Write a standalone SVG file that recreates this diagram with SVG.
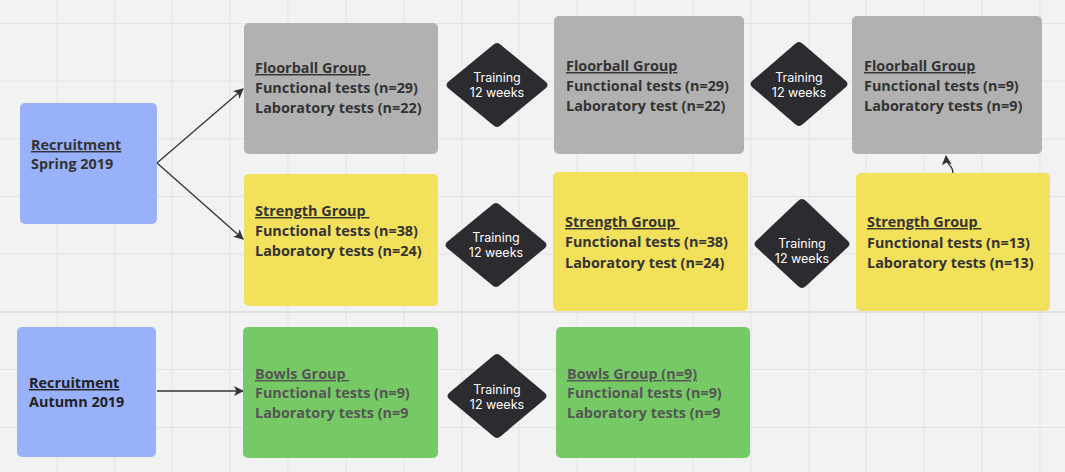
<svg xmlns="http://www.w3.org/2000/svg" width="1065" height="472" viewBox="0 0 1065 472">
<defs>
<style>
.bg{fill:#f2f2f2}
.grid line{stroke:#e3e3e3;stroke-width:1}
.box{rx:5;ry:5}
.blue{fill:#99b1fb}
.gray{fill:#b1b1b1}
.yellow{fill:#f3e05b}
.green{fill:#76ca66}
.dia{fill:#2b2b30}
.t{font-family:"Open Sans","Noto Sans","Liberation Sans",sans-serif;font-weight:700;font-size:14.4px;fill:#333}
.tg{fill:#555}
.tk{fill:#222}
.u{text-decoration:underline}
.d{font-family:Inter,Roboto,"Liberation Sans",sans-serif;font-size:12.5px;fill:#ffffff;text-anchor:middle}
.c{stroke:#333;stroke-width:1.3;fill:none}
</style>
<marker id="ah" viewBox="0 0 10 10" refX="9" refY="5" markerWidth="10" markerHeight="10" markerUnits="userSpaceOnUse" orient="auto">
<path d="M0,0 L10,5 L0,10 L2.5,5 Z" fill="#333"/>
</marker>
</defs>
<rect class="bg" x="0" y="0" width="1065" height="472"/>
<g class="grid">
<line x1="57" y1="0" x2="57" y2="472"/>
<line x1="115" y1="0" x2="115" y2="472"/>
<line x1="172" y1="0" x2="172" y2="472"/>
<line x1="230" y1="0" x2="230" y2="472"/>
<line x1="288" y1="0" x2="288" y2="472"/>
<line x1="346" y1="0" x2="346" y2="472"/>
<line x1="404" y1="0" x2="404" y2="472"/>
<line x1="462" y1="0" x2="462" y2="472"/>
<line x1="519" y1="0" x2="519" y2="472"/>
<line x1="577" y1="0" x2="577" y2="472"/>
<line x1="635" y1="0" x2="635" y2="472"/>
<line x1="693" y1="0" x2="693" y2="472"/>
<line x1="751" y1="0" x2="751" y2="472"/>
<line x1="809" y1="0" x2="809" y2="472"/>
<line x1="866" y1="0" x2="866" y2="472"/>
<line x1="924" y1="0" x2="924" y2="472"/>
<line x1="982" y1="0" x2="982" y2="472"/>
<line x1="1040" y1="0" x2="1040" y2="472"/>
<line x1="0" y1="23.5" x2="1065" y2="23.5"/>
<line x1="0" y1="81" x2="1065" y2="81"/>
<line x1="0" y1="139" x2="1065" y2="139"/>
<line x1="0" y1="196.5" x2="1065" y2="196.5"/>
<line x1="0" y1="254" x2="1065" y2="254"/>
<line x1="0" y1="312" x2="1065" y2="312" style="stroke:#dadada;stroke-width:1.5"/>
<line x1="0" y1="369.5" x2="1065" y2="369.5"/>
<line x1="0" y1="427.5" x2="1065" y2="427.5"/>
</g>
<g id="connectors">
<line class="c" x1="157" y1="163" x2="243" y2="89" marker-end="url(#ah)"/>
<line class="c" x1="157" y1="163" x2="243" y2="239" marker-end="url(#ah)"/>
<line class="c" x1="157" y1="391" x2="243" y2="391" marker-end="url(#ah)"/>
<path class="c" d="M953,173 C953,164 947,168 946,156" marker-end="url(#ah)"/>
</g>
<g id="recruit-spring">
<rect class="box blue" x="20" y="103" width="137" height="121"/>
<text class="t" x="31" y="150"><tspan class="u">Recruitment</tspan></text>
<text class="t" x="31" y="169">Spring 2019</text>
</g>
<g id="floorball-1">
<rect class="box gray" x="244" y="23" width="194" height="131"/>
<text class="t" x="255" y="73"><tspan class="u">Floorball Group&#160;</tspan></text>
<text class="t" x="255" y="93">Functional tests (n=29)</text>
<text class="t" x="255" y="112.5">Laboratory tests (n=22)</text>
</g>
<g id="strength-1">
<rect class="box yellow" x="244" y="174" width="194" height="132"/>
<text class="t" x="255" y="216"><tspan class="u">Strength Group&#160;</tspan></text>
<text class="t" x="255" y="236">Functional tests (n=38)</text>
<text class="t" x="255" y="255.5">Laboratory tests (n=24)</text>
</g>
<g id="training-1">
<path class="dia" d="M497,43 Q499,43 501,45 L546,82 Q549,85 546,88 L501,125 Q499,127 497,127 Q495,127 493,125 L448,88 Q445,85 448,82 L493,45 Q495,43 497,43 Z"/>
<text class="d" x="497" y="82">Training</text>
<text class="d" x="497" y="97">12 weeks</text>
</g>
<g id="training-3">
<path class="dia" d="M496,203 Q498,203 500,205 L545,242 Q548,245 545,248 L500,285 Q498,287 496,287 Q494,287 492,285 L447,248 Q444,245 447,242 L492,205 Q494,203 496,203 Z"/>
<text class="d" x="496" y="242">Training</text>
<text class="d" x="496" y="257">12 weeks</text>
</g>
<g id="floorball-2">
<rect class="box gray" x="554" y="16" width="190" height="138"/>
<text class="t" x="566" y="71"><tspan class="u">Floorball Group</tspan></text>
<text class="t" x="566" y="91">Functional tests (n=29)</text>
<text class="t" x="566" y="111">Laboratory test (n=22)</text>
</g>
<g id="strength-2">
<rect class="box yellow" x="553" y="172" width="195" height="139"/>
<text class="t" x="565" y="227"><tspan class="u">Strength Group&#160;</tspan></text>
<text class="t" x="565" y="247">Functional tests (n=38)</text>
<text class="t" x="565" y="267.5">Laboratory test (n=24)</text>
</g>
<g id="training-2">
<path class="dia" d="M799,42 Q801,42 803,44 L846,81 Q849,84 846,87 L803,124 Q801,126 799,126 Q797,126 795,124 L752,87 Q749,84 752,81 L795,44 Q797,42 799,42 Z"/>
<text class="d" x="799" y="82">Training</text>
<text class="d" x="799" y="97">12 weeks</text>
</g>
<g id="training-4">
<path class="dia" d="M802,199 Q804,199 806,201 L848,241 Q851,244 848,247 L806,286 Q804,288 802,288 Q800,288 798,286 L756,247 Q753,244 756,241 L798,201 Q800,199 802,199 Z"/>
<text class="d" x="802" y="248">Training</text>
<text class="d" x="802" y="263">12 weeks</text>
</g>
<g id="floorball-3">
<rect class="box gray" x="852" y="16" width="190" height="138"/>
<text class="t" x="864" y="71"><tspan class="u">Floorball Group</tspan></text>
<text class="t" x="864" y="91">Functional tests (n=9)</text>
<text class="t" x="864" y="111">Laboratory tests (n=9)</text>
</g>
<g id="strength-3">
<rect class="box yellow" x="856" y="173" width="194" height="138"/>
<text class="t" x="867" y="227"><tspan class="u">Strength Group&#160;</tspan></text>
<text class="t" x="867" y="247.5">Functional tests (n=13)</text>
<text class="t" x="867" y="268">Laboratory tests (n=13)</text>
</g>
<g id="recruit-autumn">
<rect class="box blue" x="17" y="327" width="139" height="130"/>
<text class="t tk" x="29" y="388"><tspan class="u">Recruitment</tspan></text>
<text class="t tk" x="29" y="407">Autumn 2019</text>
</g>
<g id="bowls-1">
<rect class="box green" x="243" y="327" width="195" height="131"/>
<text class="t tg" x="255" y="379"><tspan class="u">Bowls Group&#160;</tspan></text>
<text class="t tg" x="255" y="398">Functional tests (n=9)</text>
<text class="t tg" x="255" y="418">Laboratory tests (n=9</text>
</g>
<g id="training-5">
<path class="dia" d="M497,354 Q499,354 501,356 L545,393 Q548,396 545,399 L501,436 Q499,438 497,438 Q495,438 493,436 L449,399 Q446,396 449,393 L493,356 Q495,354 497,354 Z"/>
<text class="d" x="497" y="394">Training</text>
<text class="d" x="497" y="409">12 weeks</text>
</g>
<g id="bowls-2">
<rect class="box green" x="556" y="327" width="194" height="131"/>
<text class="t tg" x="567" y="379"><tspan class="u">Bowls Group (n=9)</tspan></text>
<text class="t tg" x="567" y="398">Functional tests (n=9)</text>
<text class="t tg" x="567" y="418">Laboratory tests (n=9</text>
</g>
</svg>
